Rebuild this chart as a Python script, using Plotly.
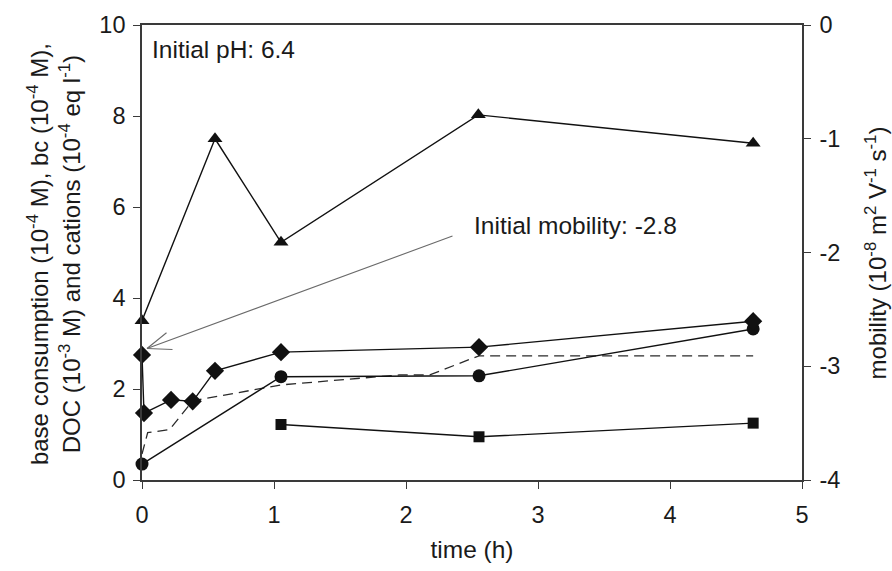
import plotly.graph_objects as go

# Time axis (h) for each series
time_mobility = [0, 0.553, 1.053, 2.548, 4.63]
mobility = [-2.6, -1.0, -1.91, -0.79, -1.04]          # 10^-8 m2 V-1 s-1

time_base = [0, 0.015, 0.22, 0.384, 0.553, 1.053, 2.553, 4.63]
base_consumption = [2.75, 1.47, 1.76, 1.73, 2.40, 2.81, 2.92, 3.49]   # 10^-4 M

time_bc = [0, 1.053, 2.553, 4.63]
bc = [0.35, 2.27, 2.29, 3.32]                            # 10^-4 M

time_doc = [1.053, 2.553, 4.63]
doc = [1.22, 0.95, 1.25]                                 # 10^-3 M

time_cations = [0, 0.043, 0.21, 0.384, 1.053, 1.95, 2.18, 2.553, 4.63]
cations = [0.57, 1.04, 1.11, 1.74, 2.09, 2.31, 2.31, 2.73, 2.73]  # 10^-4 eq l-1

initial_ph = 6.4
initial_mobility = -2.8

x_ticks = [0, 1, 2, 3, 4, 5]
left_ticks = [0, 2, 4, 6, 8, 10]
right_ticks = [0, -1, -2, -3, -4]
right_tick_text = ["0", "-1", "-2", "-3", "-4"]

FONT = "Liberation Sans, Arial, sans-serif"
TXT = "#1a1a1a"
INK = "#111111"
AXIS = "#3a3a3a"
TICK_SIZE = 23.5
LABEL_SIZE = 24.5

fig = go.Figure()

fig.add_trace(go.Scatter(
    x=time_cations, y=cations, mode="lines", name="cations",
    line=dict(color="#2a2a2a", width=1.3, dash="10px,6px"), cliponaxis=False))
fig.add_trace(go.Scatter(
    x=time_bc, y=bc, mode="lines+markers", name="bc",
    line=dict(color=INK, width=1.4),
    marker=dict(symbol="circle", size=13, color=INK), cliponaxis=False))
fig.add_trace(go.Scatter(
    x=time_doc, y=doc, mode="lines+markers", name="DOC",
    line=dict(color=INK, width=1.4),
    marker=dict(symbol="square", size=11, color=INK), cliponaxis=False))
fig.add_trace(go.Scatter(
    x=time_base, y=base_consumption, mode="lines+markers", name="base consumption",
    line=dict(color=INK, width=1.4),
    marker=dict(symbol="diamond", size=14, color=INK), cliponaxis=False))
fig.add_trace(go.Scatter(
    x=time_mobility, y=mobility, mode="lines+markers", name="mobility",
    yaxis="y2", line=dict(color=INK, width=1.4),
    marker=dict(symbol="triangle-up", size=13, color=INK), cliponaxis=False))

axis_common = dict(
    showline=True, linecolor=AXIS, linewidth=1.6, ticks="outside",
    ticklen=7, tickwidth=1.2, tickcolor=AXIS, showgrid=False, zeroline=False,
    tickfont=dict(family=FONT, size=TICK_SIZE, color=TXT),
)

fig.update_layout(
    width=892, height=571,
    margin=dict(l=142, r=90, t=22, b=88),
    paper_bgcolor="white", plot_bgcolor="white",
    showlegend=False,
    font=dict(family=FONT, size=TICK_SIZE, color=TXT),
    xaxis=dict(range=[0, 5], tickvals=x_ticks, mirror=True, ticklabelstandoff=6,
               **axis_common,
               title=dict(text="time (h)", standoff=14,
                          font=dict(family=FONT, size=LABEL_SIZE, color=TXT))),
    yaxis=dict(range=[0, 10], tickvals=left_ticks, ticklabelstandoff=3, **axis_common),
    yaxis2=dict(range=[-4, 0], tickvals=right_ticks, ticktext=right_tick_text,
                overlaying="y", side="right", ticklabelstandoff=4, **axis_common),
)

# Axis titles
fig.add_annotation(
    xref="paper", yref="paper", x=-0.133, y=0.497, xanchor="center", yanchor="middle",
    textangle=-90, showarrow=False, align="center",
    text="base consumption (10<sup>-4</sup> M), bc (10<sup>-4</sup> M),<br>"
         "DOC (10<sup>-3</sup> M) and cations (10<sup>-4</sup> eq l<sup>-1</sup>)",
    font=dict(family=FONT, size=LABEL_SIZE - 0.5, color=TXT))
fig.add_annotation(
    xref="paper", yref="paper", x=1.112, y=0.5, xanchor="center", yanchor="middle",
    textangle=-90, showarrow=False,
    text="mobility (10<sup>-8</sup> m<sup>2</sup> V<sup>-1</sup> s<sup>-1</sup>)",
    font=dict(family=FONT, size=LABEL_SIZE - 0.5, color=TXT))

# Text labels inside the plot
fig.add_annotation(
    xref="paper", yref="paper", x=0.012, y=0.946, xanchor="left", yanchor="middle",
    showarrow=False, text=f"Initial pH: {initial_ph}",
    font=dict(family=FONT, size=LABEL_SIZE, color=TXT))
fig.add_annotation(
    xref="x", yref="y", x=2.5, y=5.6, xanchor="left", yanchor="middle",
    showarrow=False, text=f"Initial mobility: {initial_mobility}",
    font=dict(family=FONT, size=LABEL_SIZE, color=TXT))

# Pointer from the label to the initial mobility: shaft plus an open arrowhead
for ax, ay in [(307, -113), (21, -17), (27, 1)]:
    fig.add_annotation(
        xref="x", yref="y2", x=0, y=initial_mobility, xshift=5, yshift=-5,
        text="", showarrow=True, arrowhead=0, arrowwidth=1.1,
        arrowcolor="#6a6a6a", ax=ax, ay=ay, standoff=0, startstandoff=0)

fig.write_html("out.html")
